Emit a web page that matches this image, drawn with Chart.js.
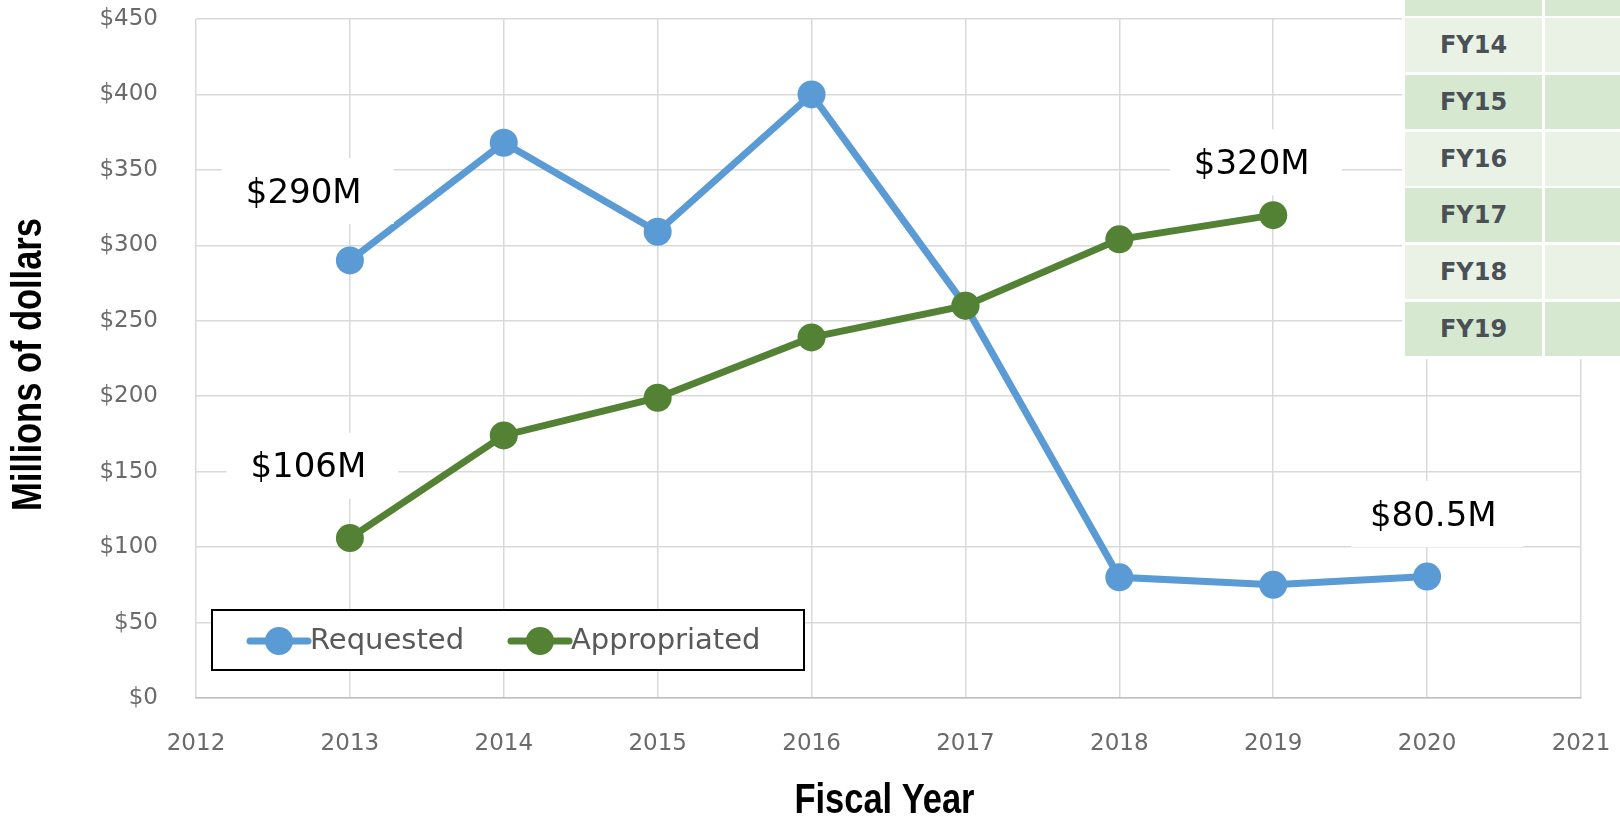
<!DOCTYPE html>
<html>
<head>
<meta charset="utf-8">
<script src="https://cdn.jsdelivr.net/npm/chart.js@4.4.0/dist/chart.umd.min.js"></script>
<style>
  html, body { margin: 0; padding: 0; background: #fff; }
  #wrap { position: relative; width: 1620px; height: 822px; overflow: hidden; }
  #chart { position: absolute; left: 0; top: 0; }
  #fytable { position: absolute; left: 1402px; top: 0; width: 218px; height: 359px; background: #fff; }
  .cell { position: absolute; box-sizing: border-box; display: flex; align-items: center; justify-content: center;
          font-family: "DejaVu Sans", sans-serif; font-weight: bold; font-size: 24px; color: #4b5057; }
</style>
</head>
<body>
<div id="wrap">
  <canvas id="chart" width="1620" height="822"></canvas>
  <div id="fytable"></div>
</div>
<script>
// data
const requestedYears = [2013, 2014, 2015, 2016, 2017, 2018, 2019, 2020];
const requested = [290, 368, 309, 400, 260, 80, 75, 80.5];
const appropriatedYears = [2013, 2014, 2015, 2016, 2017, 2018, 2019];
const appropriated = [106, 174, 199, 239, 260, 304, 320];
const xRange = [2012, 2021];
const yRange = [0, 450];
const yStep = 50;

const callouts = [
  { text: "$290M", x: 2012.70, y: 334 },
  { text: "$106M", x: 2012.73, y: 152 },
  { text: "$320M", x: 2018.86, y: 353 },
  { text: "$80.5M", x: 2020.04, y: 120 }
];
const fyRows = ["FY14", "FY15", "FY16", "FY17", "FY18", "FY19"];

const blue = "#5b9bd5";
const green = "#548235";
const tickColor = "#6a6a6a";

function toPoints(xs, ys) {
  return xs.map((x, i) => ({ x: x, y: ys[i] }));
}

// side table (partly cut off in the source)
const table = document.getElementById("fytable");
const dark = "#d6e8cf", light = "#e9f2e5";
function addCell(left, top, w, h, bg, text) {
  const d = document.createElement("div");
  d.className = "cell";
  d.style.left = left + "px"; d.style.top = top + "px";
  d.style.width = w + "px"; d.style.height = h + "px";
  d.style.background = bg;
  if (text) d.textContent = text;
  table.appendChild(d);
}
addCell(3, 0, 137, 16, dark);
addCell(143, 0, 80, 16, dark);
fyRows.forEach((r, i) => {
  const top = 18 + i * 56.8;
  const bg = i % 2 === 0 ? light : dark;
  addCell(3, top, 137, 54, bg, r);
  addCell(143, top, 80, 54, bg);
});

const calloutPlugin = {
  id: "callouts",
  afterDatasetsDraw(chart) {
    const { ctx, scales: { x, y } } = chart;
    ctx.save();
    ctx.font = '34px "DejaVu Sans"';
    ctx.textAlign = "center";
    ctx.textBaseline = "middle";
    callouts.forEach(c => {
      const px = x.getPixelForValue(c.x);
      const py = y.getPixelForValue(c.y);
      ctx.fillStyle = "#fff";
      ctx.fillRect(px - 82, py - 36, 172, 66);
      ctx.fillStyle = "#000";
      ctx.fillText(c.text, px, py);
    });
    ctx.restore();
  }
};

const boxLegend = {
  id: "boxLegend",
  afterDatasetsDraw(chart) {
    const { ctx, chartArea } = chart;
    const left = chartArea.left + 16, top = chartArea.bottom - 88;
    ctx.save();
    ctx.fillStyle = "#fff";
    ctx.fillRect(left, top, 592, 60);
    ctx.strokeStyle = "#000";
    ctx.lineWidth = 2;
    ctx.strokeRect(left, top, 592, 60);
    const cy = top + 31;
    const items = [
      { label: "Requested", color: blue, dx: 38 },
      { label: "Appropriated", color: green, dx: 299 }
    ];
    ctx.font = '29px "DejaVu Sans"';
    ctx.textBaseline = "middle";
    items.forEach(it => {
      const x0 = left + it.dx;
      ctx.strokeStyle = it.color;
      ctx.lineWidth = 7;
      ctx.lineCap = "round";
      ctx.beginPath();
      ctx.moveTo(x0, cy);
      ctx.lineTo(x0 + 58, cy);
      ctx.stroke();
      ctx.fillStyle = it.color;
      ctx.beginPath();
      ctx.arc(x0 + 29, cy, 14, 0, Math.PI * 2);
      ctx.fill();
      ctx.fillStyle = "#595959";
      ctx.fillText(it.label, x0 + 60, cy);
    });
    ctx.restore();
  }
};

// axis titles in a condensed bold face
const axisTitles = {
  id: "axisTitles",
  afterDraw(chart) {
    const { ctx, chartArea } = chart;
    ctx.save();
    ctx.font = 'bold 42px "Liberation Sans"';
    ctx.fillStyle = "#000";
    ctx.textAlign = "center";
    ctx.textBaseline = "middle";
    ctx.save();
    ctx.translate(29, (chartArea.top + chartArea.bottom) / 2 + 6);
    ctx.rotate(-Math.PI / 2);
    ctx.scale(0.82, 1);
    ctx.fillText("Millions of dollars", 0, 0);
    ctx.restore();
    ctx.save();
    ctx.translate((chartArea.left + chartArea.right) / 2 - 4, 801);
    ctx.scale(0.82, 1);
    ctx.fillText("Fiscal Year", 0, 0);
    ctx.restore();
    ctx.restore();
  }
};

// tick padding would otherwise push the plot area inwards
function noPadding(scale) {
  scale.paddingTop = 0;
  scale.paddingBottom = 0;
  scale.paddingLeft = 0;
  scale.paddingRight = 0;
}

new Chart(document.getElementById("chart").getContext("2d"), {
  type: "line",
  data: {
    datasets: [
      {
        label: "Requested",
        data: toPoints(requestedYears, requested),
        borderColor: blue,
        backgroundColor: blue,
        borderWidth: 7,
        pointRadius: 14,
        pointBorderWidth: 0,
        order: 1
      },
      {
        label: "Appropriated",
        data: toPoints(appropriatedYears, appropriated),
        borderColor: green,
        backgroundColor: green,
        borderWidth: 7,
        pointRadius: 14,
        pointBorderWidth: 0,
        order: 0
      }
    ]
  },
  options: {
    responsive: false,
    animation: false,
    layout: { autoPadding: false, padding: { top: 19, right: 39, left: 0, bottom: 0 } },
    plugins: { legend: { display: false }, tooltip: { enabled: false } },
    scales: {
      x: {
        type: "linear",
        min: xRange[0],
        max: xRange[1],
        afterFit(scale) { scale.height = 124; noPadding(scale); },
        ticks: {
          stepSize: 1,
          padding: 32,
          color: tickColor,
          font: { family: "DejaVu Sans", size: 23 },
          callback: v => String(v)
        },
        grid: { color: "#d9d9d9", lineWidth: 1.5, drawTicks: false },
        border: { color: "#bfbfbf", width: 1.5 }
      },
      y: {
        min: yRange[0],
        max: yRange[1],
        afterFit(scale) { scale.width = 196; noPadding(scale); },
        ticks: {
          stepSize: yStep,
          padding: 38,
          color: tickColor,
          font: { family: "DejaVu Sans", size: 23 },
          callback: v => "$" + v
        },
        grid: { color: "#d9d9d9", lineWidth: 1.5, drawTicks: false },
        border: { display: false }
      }
    }
  },
  plugins: [calloutPlugin, boxLegend, axisTitles]
});
</script>
</body>
</html>
